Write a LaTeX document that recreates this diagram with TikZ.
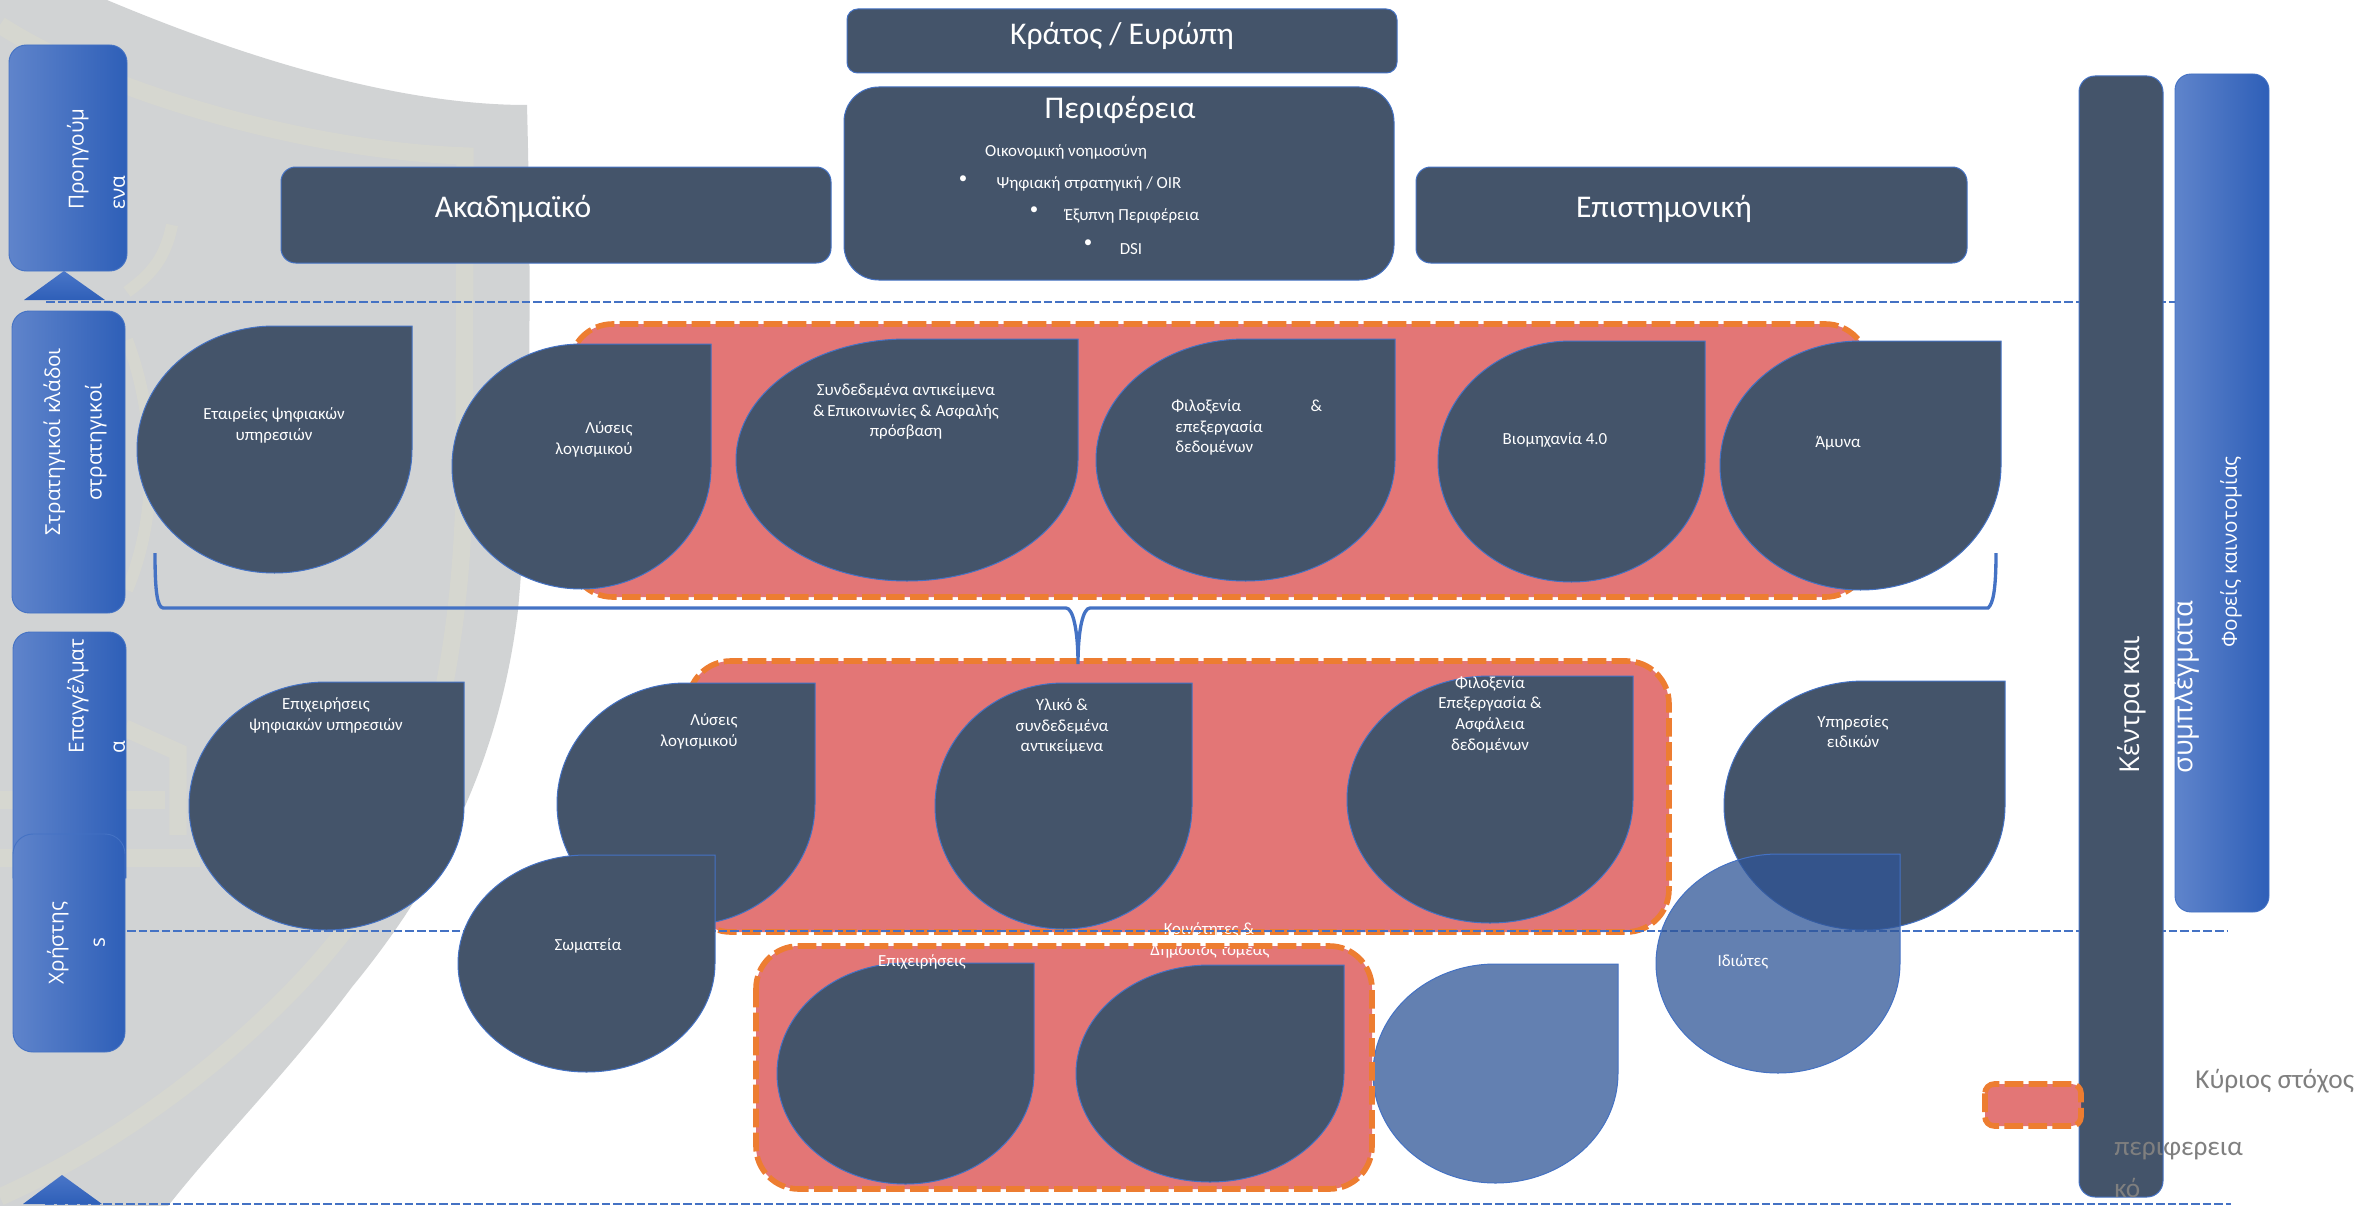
\documentclass[tikz,border=0pt]{standalone}
\usepackage{fontspec}
\setmainfont{Carlito}
\newfontfamily\sidefont{Open Sans}
\usepackage{tikz}

\definecolor{slate}{HTML}{44546A}
\definecolor{edgeblue}{HTML}{4472C4}
\definecolor{focusred}{HTML}{E37676}
\definecolor{focusorange}{HTML}{ED7D31}
\definecolor{shieldgray}{HTML}{D1D3D4}
\definecolor{shieldband}{HTML}{D6D7D0}
\definecolor{notegray}{HTML}{7F7F7F}
\definecolor{blueleft}{HTML}{5F84CB}
\definecolor{bluemid}{HTML}{3E70CA}
\definecolor{blueright}{HTML}{2E5FB8}
\definecolor{bluetop}{HTML}{4A76C8}
\definecolor{veilblue}{HTML}{2F5597}

\tikzset{
  darkbox/.style={draw=edgeblue,line width=0.75pt,fill=slate},
  veilbox/.style={draw=edgeblue,line width=0.75pt,fill=veilblue,fill opacity=0.75},
  sidebox/.style={draw=edgeblue,line width=0.7pt,left color=blueleft,middle color=bluemid,right color=blueright},
  focusfill/.style={fill=focusred,rounded corners=32pt},
  focusline/.style={draw=focusorange,line width=4.2pt,dash pattern=on 14pt off 4pt,rounded corners=32pt},
  levelline/.style={draw=edgeblue,line width=2.2pt,dash pattern=on 6.5pt off 2.2pt},
  band/.style={draw=shieldband,line width=13pt},
  droptxt/.style={text=white,font=\fontsize{12.7}{15.5}\selectfont,align=center,inner sep=0pt,yshift=-2pt},
  headtxt/.style={text=white,font=\fontsize{23.7}{30}\selectfont,inner sep=0pt,yshift=-2pt},
  sidetxt/.style={text=white,rotate=90,inner sep=0pt,font=\sidefont\fontsize{15.5}{31}\selectfont},
  notetxt/.style={text=notegray,inner sep=0pt,font=\fontsize{20.5}{32}\selectfont},
}

% left, top, right, bottom
\newcommand{\dropshape}[5][darkbox]{%
  \pgfmathsetmacro{\dropcx}{(#2+#4)/2}%
  \pgfmathsetmacro{\dropcy}{(#3+#5)/2}%
  \pgfmathsetmacro{\dropkx}{(#4-#2)/2*0.5523}%
  \pgfmathsetmacro{\dropky}{(#5-#3)/2*0.5523}%
  \draw[#1] (#2,\dropcy) .. controls (#2,\dropcy-\dropky) and (\dropcx-\dropkx,#3) .. (\dropcx,#3)
    -- (#4,#3) -- (#4,\dropcy)
    .. controls (#4,\dropcy+\dropky) and (\dropcx+\dropkx,#5) .. (\dropcx,#5)
    .. controls (\dropcx-\dropkx,#5) and (#2,\dropcy+\dropky) .. (#2,\dropcy) -- cycle;}

\begin{document}
\begin{tikzpicture}[x=0.75pt,y=0.75pt,yscale=-1,xscale=1]
\useasboundingbox (0,0) rectangle (2371,1206);

%Shield behind
\fill[shieldgray] (0,0) -- (107,0) .. controls (250,60) and (400,105) .. (527,105) .. controls (532,300) and (530,480) .. (518,610) .. controls (500,760) and (440,880) .. (352,987) .. controls (290,1070) and (220,1140) .. (168,1206) -- (0,1206) -- cycle;
\draw[band] (0,25) .. controls (100,90) and (300,150) .. (465,156) -- (464,500) .. controls (458,700) and (410,850) .. (345,930) .. controls (280,1015) and (150,1130) .. (0,1197);
\draw[band] (125,728) -- (178,752) -- (178,835);
\draw[band] (0,800) -- (165,800);
\draw[band] (0,858) -- (200,858);
\draw[band,line width=9pt] (172,225) .. controls (165,260) and (150,275) .. (127,292);
\draw[band,line width=9pt] (127,340) .. controls (150,400) and (165,500) .. (127,590);

%Level lines
\draw[levelline] (46,302) -- (2175,302);
\draw[levelline] (45,1204) -- (2231,1204);

%Main target areas
\path[focusfill] (570,324) rectangle (1868,597);
\draw[focusline] (570,324) rectangle (1868,597);
\path[focusfill] (688,661) rectangle (1669,932);
\draw[focusline] (688,661) rectangle (1669,932);
\path[focusfill] (756,946) rectangle (1372,1189);
\draw[levelline] (127,931) -- (2227,931);

%Top boxes
\draw[darkbox,rounded corners=8pt] (847,9) rectangle (1397,73);
\draw[darkbox,rounded corners=26pt] (844,87) rectangle (1394,280);
\draw[darkbox,rounded corners=11pt] (281,167) rectangle (831,263);
\draw[darkbox,rounded corners=11pt] (1416,167) rectangle (1967,263);

%Sectors
\dropshape{137}{326}{412}{573}
\dropshape{452}{344}{711}{589}
\dropshape{736}{339}{1078}{581}
\dropshape{1096}{339}{1395}{581}
\dropshape{1438}{341}{1705}{582}
\dropshape{1720}{341}{2001}{590}

%Brace
\draw[edgeblue,line width=2.5pt] (155,553) .. controls (155,590) and (157,607) .. (163,608) -- (1066,608) .. controls (1073,608) and (1078,630) .. (1078,664) .. controls (1078,630) and (1083,608) .. (1090,608) -- (1988,608) .. controls (1993,604) and (1996,590) .. (1996,553);

%Professions
\dropshape{189}{682}{464}{930}
\dropshape{557}{683}{815}{925}
\dropshape{935}{683}{1192}{929}
\dropshape{1347}{676}{1633}{923}
\dropshape{1724}{681}{2005}{930}

%Users
\dropshape{458}{855}{715}{1072}
\dropshape{777}{963}{1034}{1184}
\dropshape{1076}{965}{1344}{1182}
\dropshape[veilbox]{1373}{964}{1618}{1183}
\dropshape[veilbox]{1656}{854}{1900}{1073}

% Text Node
\node[droptxt] (kinotites) at (1209,927) {Κοινότητες \&};
\node[droptxt] (dimosios) at (1210,948) {Δημόσιος τομέας};
\draw[focusline] (756,946) rectangle (1372,1189);
\draw[levelline] (1147.8,931) -- (1290,931);

%Side boxes
\draw[sidebox,rounded corners=13pt] (9,45) rectangle (127,271);
\shade[top color=bluetop,bottom color=blueright] (64,271) -- (105,300) -- (24,300) -- cycle;
\draw[sidebox,rounded corners=13pt] (12,311) rectangle (125,613);
\draw[sidebox] (13,878) [rounded corners=13pt] -- (13,632) -- (126,632) [sharp corners] -- (126,878) -- cycle;
\draw[sidebox,rounded corners=15pt] (13,834) rectangle (125,1052);
\shade[top color=bluetop,bottom color=blueright] (62,1175) -- (102,1204) -- (23,1204) -- cycle;

%Right bars
\draw[sidebox,rounded corners=12pt] (2175,74) rectangle (2269,912);
\draw[darkbox,rounded corners=12pt] (2079,76) rectangle (2163,1197);

%Legend
\draw[fill=focusred,draw=focusorange,line width=4.2pt,dash pattern=on 14pt off 4pt,rounded corners=7pt] (1985,1084) rectangle (2081,1126);

% Text Node
\node[headtxt] (kratos) at (1122,33) {Κράτος / Ευρώπη};
\node[headtxt] (perifereia) at (1120,107) {Περιφέρεια};
\node[headtxt] (akadimaiko) at (513,206) {Ακαδημαϊκό};
\node[headtxt] (epistimoniki) at (1664,206) {Επιστημονική};
% Text Node
\node[droptxt] (oikonomiki) at (1066,149) {Οικονομική νοημοσύνη};
\node[droptxt] (bulleta) at (963,177) {•};
\node[droptxt] (psifiaki) at (1089,181) {Ψηφιακή στρατηγική / OIR};
\node[droptxt] (bulletb) at (1034,208) {•};
\node[droptxt] (exypni) at (1132,213) {Έξυπνη Περιφέρεια};
\node[droptxt] (bulletc) at (1088,241) {•};
\node[droptxt] (dsi) at (1131,246) {DSI};
% Text Node
\node[droptxt] (etaireies) at (274,423) {Εταιρείες ψηφιακών\\υπηρεσιών};
\node[droptxt,align=right] (lyseisa) at (594,437) {Λύσεις\\λογισμικού};
\node[droptxt] (syndedemena) at (906,409) {Συνδεδεμένα αντικείμενα\\\&\,Επικοινωνίες \& Ασφαλής\\πρόσβαση};
\node[droptxt,align=left,anchor=west] (filoxeniaa) at (1171,425) {Φιλοξενία\hspace{52pt}\&\\\hspace*{3pt}επεξεργασία\\\hspace*{3pt}δεδομένων};
\node[droptxt] (viomichania) at (1555,437) {Βιομηχανία 4.0};
\node[droptxt] (amyna) at (1838,441) {Άμυνα};
% Text Node
\node[droptxt] (epicheiriseisa) at (326,713) {Επιχειρήσεις\\ψηφιακών υπηρεσιών};
\node[droptxt,align=right] (lyseisb) at (699,729) {Λύσεις\\λογισμικού};
\node[droptxt] (yliko) at (1062,724) {Υλικό \&\\συνδεδεμένα\\αντικείμενα};
\node[droptxt] (filoxeniab) at (1490,712) {Φιλοξενία\\Επεξεργασία \&\\Ασφάλεια\\δεδομένων};
\node[droptxt] (ypiresies) at (1853,729) {Υπηρεσίες\\ειδικών};
% Text Node
\node[droptxt] (somateia) at (588,943) {Σωματεία};
\node[droptxt] (idiotes) at (1743,959) {Ιδιώτες};
\node[droptxt] (epicheiriseisb) at (922,959) {Επιχειρήσεις};
% Text Node
\node[sidetxt,align=left] (proigoumena) at (96,159) {Προηγούμ\\ενα};
\node[sidetxt,align=center] (stratigikoi) at (75,442) {Στρατηγικοί κλάδοι\\στρατηγικοί};
\node[sidetxt,align=left] (epangelmata) at (96,696) {Επαγγέλματ\\α};
\node[sidetxt,align=center] (xristis) at (76,943) {Χρήστης\\s};
\node[sidetxt,align=left,font=\sidefont\fontsize{20.5}{40}\selectfont] (kentra) at (2158,687) {Κέντρα και\\συμπλέγματα};
\node[sidetxt] (foreis) at (2231,552) {Φορείς καινοτομίας};
% Text Node
\node[notetxt,anchor=west] (kyrios) at (2195,1081) {Κύριος στόχος};
\node[notetxt,anchor=west,align=left] (perifereiako) at (2114,1170) {περιφερεια\\κό};
\end{tikzpicture}
\end{document}
